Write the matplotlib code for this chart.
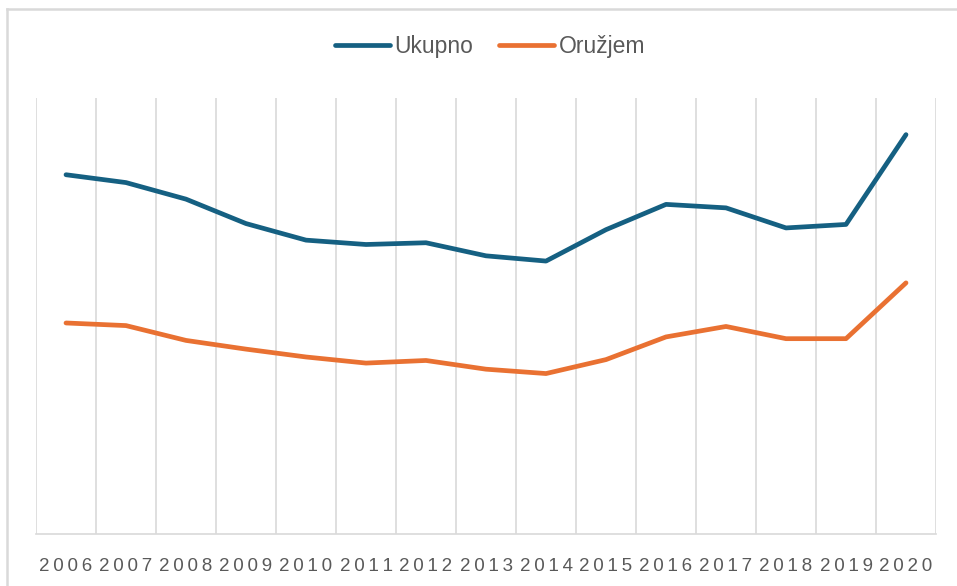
"""Ukupno vs. Oružjem, 2006-2020, as an Excel-style line chart."""

import matplotlib

matplotlib.use("Agg")
import matplotlib.pyplot as plt
from matplotlib.lines import Line2D

years = [2006, 2007, 2008, 2009, 2010, 2011, 2012, 2013, 2014,
         2015, 2016, 2017, 2018, 2019, 2020]
ukupno = [412, 403, 384, 356, 337, 332, 334, 319, 313,
          349, 378, 374, 351, 355, 458]
oruzjem = [242, 239, 222, 212, 203, 196, 199, 189, 184,
           200, 226, 238, 224, 224, 288]

BLUE = "#156082"
ORANGE = "#E97132"
GRID = "#D9D9D9"
TEXT = "#595959"

plt.rcParams["font.family"] = ["Liberation Sans", "DejaVu Sans"]

W, H = 957, 586
fig = plt.figure(figsize=(W / 100, H / 100), dpi=100)
ax = fig.add_axes([36 / W, 1 - 534 / H, (936 - 36) / W, (534 - 98) / H])

xs = list(range(len(years)))
ax.plot(xs, ukupno, color=BLUE, lw=3.4, solid_capstyle="round",
        solid_joinstyle="round", label="Ukupno", zorder=3)
ax.plot(xs, oruzjem, color=ORANGE, lw=3.4, solid_capstyle="round",
        solid_joinstyle="round", label="Oružjem", zorder=3)

ax.set_xlim(-0.5, len(years) - 0.5)
ax.set_ylim(0, 500)

# gridlines sit between categories, labels on the categories
ax.set_xticks([i - 0.5 for i in range(len(years) + 1)], minor=True)
ax.set_xticks(xs)
ax.set_xticklabels(["\u2009".join(str(y)) for y in years], color=TEXT,
                   fontsize=13.5)
ax.tick_params(axis="x", which="both", length=0, pad=17)
ax.grid(True, axis="x", which="minor", color=GRID, lw=1.2)
ax.set_yticks([])
for side in ("left", "right", "top"):
    ax.spines[side].set_visible(False)
ax.spines["bottom"].set_color(GRID)
ax.spines["bottom"].set_linewidth(1.2)

fig.legend(loc="center", bbox_to_anchor=(490 / W, 1 - 47 / H), ncol=2,
           frameon=False, fontsize=16.5, labelcolor=TEXT, handlelength=2.4,
           handletextpad=0.2, columnspacing=1.1)

# outer chart border (cut off at right and bottom in the screenshot)
fig.add_artist(Line2D([7 / W, 1.01], [1 - 9 / H] * 2, color=GRID, lw=1.8,
                      transform=fig.transFigure))
fig.add_artist(Line2D([7 / W] * 2, [1 - 9 / H, -0.01], color=GRID, lw=1.8,
                      transform=fig.transFigure))

fig.savefig("out.png", dpi=100)
